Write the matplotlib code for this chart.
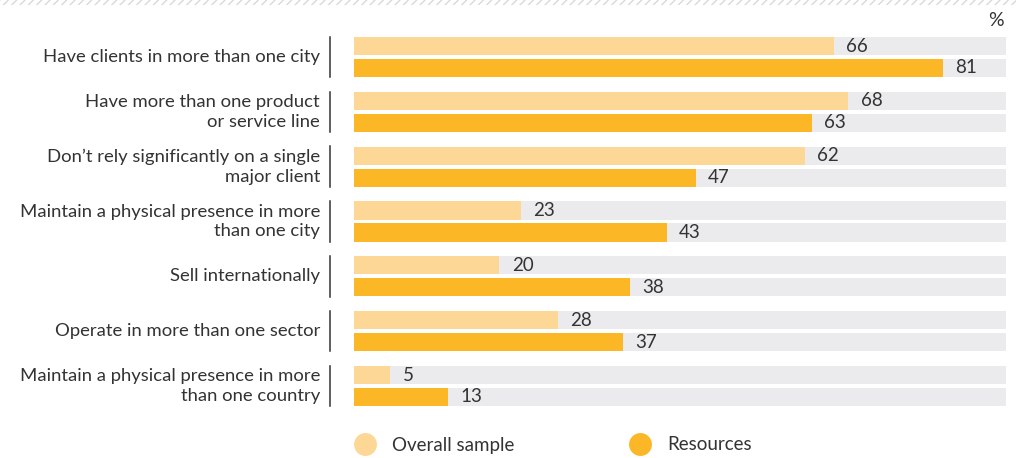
import numpy as np
import matplotlib
matplotlib.use("Agg")
from matplotlib import pyplot as plt
from matplotlib.patches import Rectangle
from matplotlib.transforms import blended_transform_factory

plt.rcParams['font.family'] = ['Lato', 'DejaVu Sans']

# Data
categories = [
    "Have clients in more than one city",
    "Have more than one product\nor service line",
    "Don\u2019t rely significantly on a single\nmajor client",
    "Maintain a physical presence in more\nthan one city",
    "Sell internationally",
    "Operate in more than one sector",
    "Maintain a physical presence in more\nthan one country",
]
overall = [66, 68, 62, 23, 20, 28, 5]
resources = [81, 63, 47, 43, 38, 37, 13]
series_names = ["Overall sample", "Resources"]

c_light = "#FDD795"
c_dark = "#FBB726"
c_bg = "#EBEBED"
c_text = "#333333"

W, H = 1016, 458
fig = plt.figure(figsize=(W/100, H/100), dpi=100)
ax = fig.add_axes([354/W, 1-413.4/H, 652/W, 383.8/H])

xmax = 89.7
y = np.arange(len(categories))
off = 0.2
bh = 0.33

ax.barh(y - off, [xmax]*len(y), height=bh, color=c_bg)
ax.barh(y + off, [xmax]*len(y), height=bh, color=c_bg)
ax.barh(y - off, overall, height=bh, color=c_light)
ax.barh(y + off, resources, height=bh, color=c_dark)

for i in range(len(y)):
    ax.text(overall[i] + 1.7, y[i] - off, str(overall[i]), va='center', ha='left',
            fontsize=13.5, color=c_text)
    ax.text(resources[i] + 1.7, y[i] + off, str(resources[i]), va='center', ha='left',
            fontsize=13.5, color=c_text)

ax.set_xlim(0, xmax)
ax.set_ylim(len(y) - 0.5, -0.5)
ax.axis('off')

# category labels with vertical separators
tr = blended_transform_factory(ax.transAxes, ax.transData)
for i, lab in enumerate(categories):
    ax.text(-34/652, y[i], lab, transform=tr, ha='right', va='center',
            fontsize=13.3, color=c_text, linespacing=1.3)
    ax.plot([-24/652, -24/652], [y[i] - 0.37, y[i] + 0.37], transform=tr,
            color=c_text, lw=1.1, clip_on=False)

# percent sign
fig.text(1004/W, 1-21/H, "%", ha='right', va='center', fontsize=14, color=c_text)

# hatched band at the top
band = Rectangle((0, 1-5/H), 1, 5/H, transform=fig.transFigure, facecolor='white',
                 edgecolor='#D9D9D9', hatch='////', lw=0)
fig.add_artist(band)

# legend
for xp, name, col in [(365, series_names[0], c_light), (640, series_names[1], c_dark)]:
    ax.plot([xp/W], [1-444/H], 'o', transform=fig.transFigure, clip_on=False,
            markersize=16.5, color=col, markeredgewidth=0)
    fig.text((xp+27)/W, 1-445/H, name, ha='left', va='center', fontsize=13.5, color=c_text)

fig.savefig("out.png", dpi=100)
